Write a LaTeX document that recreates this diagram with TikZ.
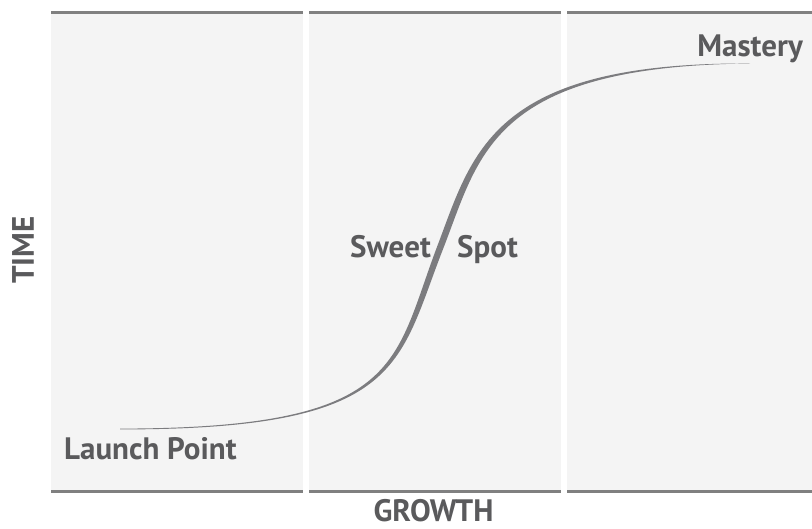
\documentclass[tikz,border=0pt]{standalone}
\usepackage{fontspec}
\setmainfont{PT Sans}
\usepackage{xcolor}

\definecolor{panelgray}{HTML}{F4F4F4}
\definecolor{rulegray}{HTML}{808080}
\definecolor{curvegray}{HTML}{7C7C7F}
\definecolor{textgray}{HTML}{5A5A5C}

\begin{document}
\begin{tikzpicture}[x=1pt, y=-1pt,
    lbl/.style={text=textgray, inner sep=0pt, font=\fontsize{31}{31}\selectfont\bfseries}]
    \useasboundingbox (0,0) rectangle (812,528);
    % three columns with their rules
    \foreach \a/\b in {51/303, 309/561, 567/812} {
        \fill[panelgray] (\a,12) rectangle (\b,491);
        \draw[rulegray, line width=2.7pt] (\a,12.3) -- (\b,12.3);
        \draw[rulegray, line width=2.7pt] (\a,491.3) -- (\b,491.3);
    }
    % tapered s-curve
    \fill[curvegray] (120,428.6) .. controls (403,428.3) and (392.6,364.1) .. (437.0,246.85)
        .. controls (472.6,153.7) and (490,62) .. (750,63.5)
        .. controls (490,66) and (479.4,156.3) .. (443.0,249.15)
        .. controls (397.4,365.9) and (403,429.7) .. (120,429.4) -- cycle;
    \node[lbl, anchor=base west] (launch) at (64,459) {Launch Point};
    \node[lbl, anchor=base east] (sweet) at (431,257) {Sweet};
    \node[lbl, anchor=base west] (spot) at (457,257) {Spot};
    \node[lbl, anchor=base east] (mastery) at (803,56) {Mastery};
    \node[lbl, anchor=base] (growth) at (433.5,521.5) {GROWTH};
    \node[lbl, rotate=90] (time) at (23,250) {TIME};
\end{tikzpicture}
\end{document}
